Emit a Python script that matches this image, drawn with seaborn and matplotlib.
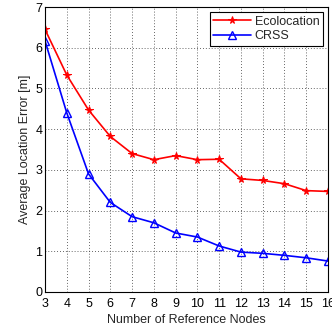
import matplotlib
matplotlib.use("Agg")
import matplotlib.pyplot as plt
import seaborn as sns
import pandas as pd

nodes = [3, 4, 5, 6, 7, 8, 9, 10, 11, 12, 13, 14, 15, 16]
ecolocation = [6.45, 5.33, 4.47, 3.82, 3.40, 3.25, 3.35, 3.25, 3.26, 2.78, 2.74, 2.66, 2.49, 2.47]
crss = [6.17, 4.40, 2.90, 2.20, 1.85, 1.70, 1.45, 1.35, 1.13, 0.98, 0.95, 0.90, 0.84, 0.76]

sns.set_style("white")
plt.rcParams['font.family'] = ['Liberation Sans', 'DejaVu Sans']

df = pd.DataFrame({"nodes": nodes, "Ecolocation": ecolocation, "CRSS": crss})

fig = plt.figure(figsize=(3.32, 3.29), dpi=100)
ax = fig.add_axes([45/332, 1 - 292/329, (328-45)/332, (292-7)/329])

sns.lineplot(data=df, x="nodes", y="Ecolocation", ax=ax, color="red", marker="*",
             markersize=5.5, linewidth=1.2, label="Ecolocation", markeredgecolor="red")
sns.lineplot(data=df, x="nodes", y="CRSS", ax=ax, color="blue", marker="^",
             markersize=5.5, linewidth=1.2, label="CRSS", markerfacecolor="none",
             markeredgecolor="blue", markeredgewidth=1.0)

ax.set_xlim(3, 16)
ax.set_ylim(0, 7)
ax.set_xticks(range(3, 17))
ax.set_yticks(range(0, 8))
ax.grid(True, linestyle=(0, (1, 2.5)), color="#333333", linewidth=0.6)
ax.tick_params(direction="in", length=3, labelsize=9, colors="black", pad=2)
ax.tick_params(axis="x", pad=4)
for s in ax.spines.values():
    s.set_color("black")
    s.set_linewidth(0.8)
ax.set_xlabel("Number of Reference Nodes", fontsize=9, labelpad=3)
ax.set_ylabel("Average Location Error [m]", fontsize=9, labelpad=3)
leg = ax.legend(loc="upper right", fontsize=9, frameon=True, fancybox=False,
                edgecolor="black", framealpha=1, borderaxespad=0.4,
                handlelength=3, borderpad=0.3, labelspacing=0.2, handletextpad=0.3)
leg.get_frame().set_linewidth(0.8)

fig.savefig("out.png", dpi=100)
